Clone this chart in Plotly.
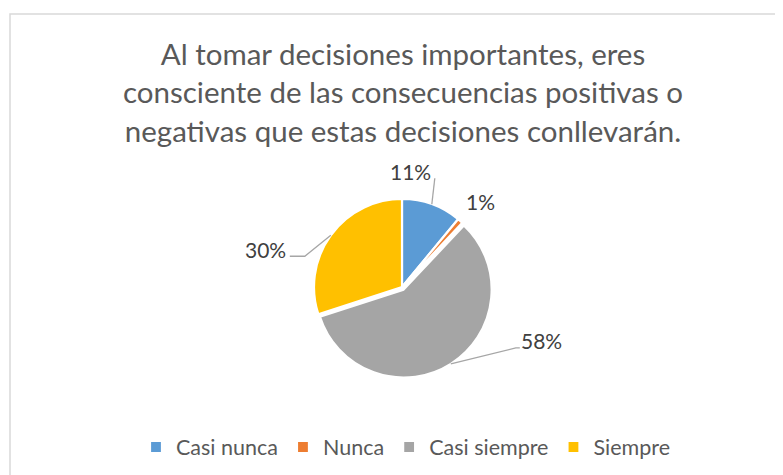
import math
import plotly.graph_objects as go

# datos de la encuesta (porcentajes)
categorias = ["Casi nunca", "Nunca", "Casi siempre", "Siempre"]
valores = [11, 1, 58, 30]
colores = ["#5B9BD5", "#ED7D31", "#A5A5A5", "#FFC000"]
titulo = ("Al tomar decisiones importantes, eres<br>"
          "consciente de las consecuencias positivas o<br>"
          "negativas que estas decisiones conllevarán.")

# la pagina tiene 8px de margen en el body: se descuenta
OFF = 8
W, H = 783 - OFF, 475 - OFF
CX, CY, R = 402, 287, 88      # centro y radio del pastel (pixeles de pantalla)
PULL = [0, 0, 0.035, 0]

# desplazamiento de cada etiqueta respecto al borde de su sector:
# (codo_dx, codo_dy, fin_dx, texto_dx, texto_dy); None = sin linea
guias = [(3, -26, 3, -21, -33),
         None,
         (65, -16, 69, 91, -23),
         (-26, 21, -41, -65, 14)]
texto_1 = (20, -19)


def px2paper(x, y):
    return (x - OFF) / W, 1 - (y - OFF) / H


d0, d1 = px2paper(CX - R * 1.035, CY + R * 1.035)
d2, d3 = px2paper(CX + R * 1.035, CY - R * 1.035)

fig = go.Figure(go.Pie(
    labels=categorias,
    values=valores,
    marker=dict(colors=colores, line=dict(color="white", width=2.2)),
    sort=False,
    direction="clockwise",
    rotation=0,
    pull=PULL,
    textinfo="none",
    hoverinfo="label+percent",
    domain=dict(x=[d0, d2], y=[d1, d3]),
))

total = sum(valores)
acum = 0
anotaciones = []
formas = []
for i, v in enumerate(valores):
    medio = (acum + v / 2) / total * 2 * math.pi
    acum += v
    s, c = math.sin(medio), math.cos(medio)
    ex = CX + R * (1 + PULL[i]) * s
    ey = CY - R * (1 + PULL[i]) * c
    etiqueta = f"{round(v / total * 100)}%"
    g = guias[i]
    if g is None:
        tx, ty = ex + texto_1[0], ey + texto_1[1]
    else:
        kx, ky = ex + g[0], ey + g[1]
        fx = ex + g[2]
        x0, y0 = px2paper(ex, ey)
        x1, y1 = px2paper(kx, ky)
        x2, _ = px2paper(fx, ky)
        formas.append(dict(type="path", xref="paper", yref="paper",
                           path=f"M {x0} {y0} L {x1} {y1} L {x2} {y1}",
                           line=dict(color="#A6A6A6", width=1.3)))
        tx, ty = ex + g[3], ey + g[4]
    ax, ay = px2paper(tx, ty)
    anotaciones.append(dict(x=ax, y=ay, xref="paper", yref="paper",
                            xanchor="center", yanchor="middle",
                            text=etiqueta, showarrow=False,
                            font=dict(size=21, color="#404040")))

# marco del grafico
bx0, by1 = px2paper(10, 14)
formas.append(dict(type="rect", xref="paper", yref="paper",
                   x0=bx0, x1=1.02, y0=-0.02, y1=by1,
                   line=dict(color="#D9D9D9", width=1.5)))

tx_, ty_ = px2paper(403, 65)
lx, ly = px2paper(406, 447)
fig.update_layout(
    width=W, height=H,
    margin=dict(l=0, r=0, t=0, b=0),
    paper_bgcolor="white",
    font=dict(family="Lato, Calibri, sans-serif", color="#595959"),
    title=dict(text=titulo, x=tx_, xanchor="center", y=ty_,
               yanchor="middle", font=dict(size=29.5, color="#595959")),
    legend=dict(orientation="h", x=lx, xanchor="center", y=ly,
                yanchor="middle", font=dict(size=21.5, color="#595959"),
                itemwidth=30),
    annotations=anotaciones,
    shapes=formas,
)

fig.write_html("out.html")
